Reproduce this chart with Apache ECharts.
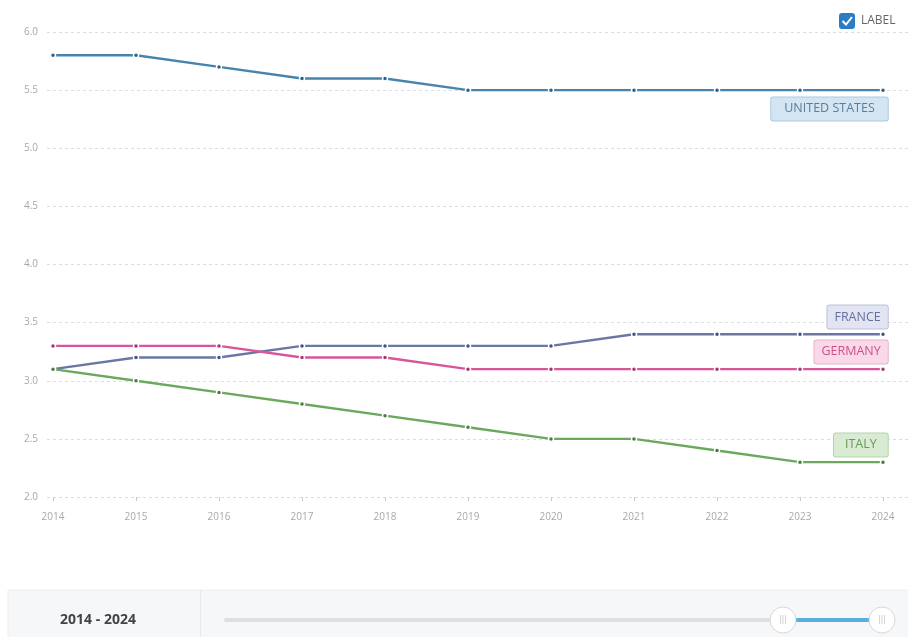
<!DOCTYPE html>
<html>
<head>
<meta charset="utf-8">
<script src="https://cdn.jsdelivr.net/npm/echarts@6/dist/echarts.min.js"></script>
<style>html,body{margin:0;padding:0;background:#fff;}#c{width:908px;height:637px;}</style>
</head>
<body>
<div id="c"></div>
<script>
var years = ['2014','2015','2016','2017','2018','2019','2020','2021','2022','2023','2024'];
var unitedStates = [5.8,5.8,5.7,5.6,5.6,5.5,5.5,5.5,5.5,5.5,5.5];
var france = [3.1,3.2,3.2,3.3,3.3,3.3,3.3,3.4,3.4,3.4,3.4];
var germany = [3.3,3.3,3.3,3.2,3.2,3.1,3.1,3.1,3.1,3.1,3.1];
var italy = [3.1,3.0,2.9,2.8,2.7,2.6,2.5,2.5,2.4,2.3,2.3];
var rangeText = '2014 - 2024';

var seriesDefs = [
  {name:'UNITED STATES', data:unitedStates, color:'#4684ad', dot:'#2f5f7f', bg:'#d3e5f2', border:'#a9c9e1', text:'#5b7d98', dy:22, pad:[5,13,5,13]},
  {name:'FRANCE', data:france, color:'#6a77a5', dot:'#46507a', bg:'#e2e4f1', border:'#bcc1dc', text:'#6670a0', dy:-14, pad:[5,7,5,7]},
  {name:'GERMANY', data:germany, color:'#d9559a', dot:'#9c3a6c', bg:'#f9d9e7', border:'#eab3cb', text:'#cf4f8b', dy:-14, pad:[5,7,5,7]},
  {name:'ITALY', data:italy, color:'#6aa95c', dot:'#4a7a40', bg:'#d9ebd3', border:'#b5d4ab', text:'#679a5a', dy:-14, pad:[5,11,5,11]}
];

var series = seriesDefs.map(function(s){
  var d = s.data.map(function(v,i){
    if(i === s.data.length-1){
      return {value:v, label:{show:true, formatter:s.name, position:[8, s.dy], align:'right', verticalAlign:'middle',
        backgroundColor:s.bg, borderColor:s.border, borderWidth:1, borderRadius:2, padding:s.pad,
        color:s.text, fontSize:12.5, fontFamily:'Open Sans'}};
    }
    return v;
  });
  return {
    name:s.name, type:'line', xAxisIndex:1, yAxisIndex:1, data:d,
    symbol:'circle', symbolSize:5, showAllSymbol:true,
    lineStyle:{color:s.color, width:2.3},
    itemStyle:{color:s.dot, borderColor:'#fff', borderWidth:1.5},
    emphasis:{disabled:true},
    label:{show:false}
  };
});

var chart = echarts.init(document.getElementById('c'));
chart.setOption({
  animation:false,
  backgroundColor:'#fff',
  grid:[
    {left:47, right:0, top:32, bottom:140},
    {left:53, right:25, top:32, bottom:140}
  ],
  xAxis:[
    {type:'category', gridIndex:0, show:false, data:years},
    {type:'category', gridIndex:1, data:years, boundaryGap:false,
      axisLine:{show:false},
      axisTick:{show:true, alignWithLabel:true, length:4, lineStyle:{color:'#c8c8c8'}},
      axisLabel:{color:'#a8a8a8', fontSize:10, margin:15, fontFamily:'Open Sans'},
      splitLine:{show:false}}
  ],
  yAxis:[
    {type:'value', gridIndex:0, min:2, max:6, interval:0.5,
      axisLine:{show:false}, axisTick:{show:false},
      axisLabel:{color:'#a8a8a8', fontSize:10, margin:9, fontFamily:'Open Sans', formatter:function(v){return v.toFixed(1);}},
      splitLine:{show:true, lineStyle:{color:'#dcdcdc', type:[3,3], width:1}}},
    {type:'value', gridIndex:1, min:2, max:6, interval:0.5, show:false, splitLine:{show:false}}
  ],
  series:series,
  graphic:[
    {type:'rect', shape:{x:839, y:13, width:16, height:16, r:3}, style:{fill:'#2b7cc4'}},
    {type:'polyline', shape:{points:[[842.5,21],[846,24.5],[852,17]]}, style:{stroke:'#fff', lineWidth:2, fill:null}},
    {type:'text', x:861, y:21, style:{text:'LABEL', fill:'#666', fontSize:12, fontFamily:'Open Sans', verticalAlign:'middle'}},
    {type:'rect', shape:{x:8, y:590, width:902, height:50}, style:{fill:'#f6f7f8', stroke:'#eceef0', lineWidth:1}},
    {type:'line', shape:{x1:200.5, y1:590, x2:200.5, y2:637}, style:{stroke:'#e6e8ea', lineWidth:1}},
    {type:'text', x:98, y:620, style:{text:rangeText, fill:'#444', fontSize:14, fontWeight:'bold', fontFamily:'Open Sans', align:'center', verticalAlign:'middle'}},
    {type:'line', shape:{x1:226, y1:620, x2:783, y2:620}, style:{stroke:'#dcdfe3', lineWidth:4, lineCap:'round'}},
    {type:'line', shape:{x1:783, y1:620, x2:882, y2:620}, style:{stroke:'#5aaee0', lineWidth:4}},
    {type:'circle', shape:{cx:783, cy:620, r:13}, style:{fill:'#fff', stroke:'#d6d9dc', lineWidth:1}},
    {type:'circle', shape:{cx:882, cy:620, r:13}, style:{fill:'#fff', stroke:'#d6d9dc', lineWidth:1}},
    {type:'text', x:783, y:620, style:{text:'|||', fill:'#c8c8c8', fontSize:9, align:'center', verticalAlign:'middle'}},
    {type:'text', x:882, y:620, style:{text:'|||', fill:'#c8c8c8', fontSize:9, align:'center', verticalAlign:'middle'}}
  ]
});
</script>
</body>
</html>
